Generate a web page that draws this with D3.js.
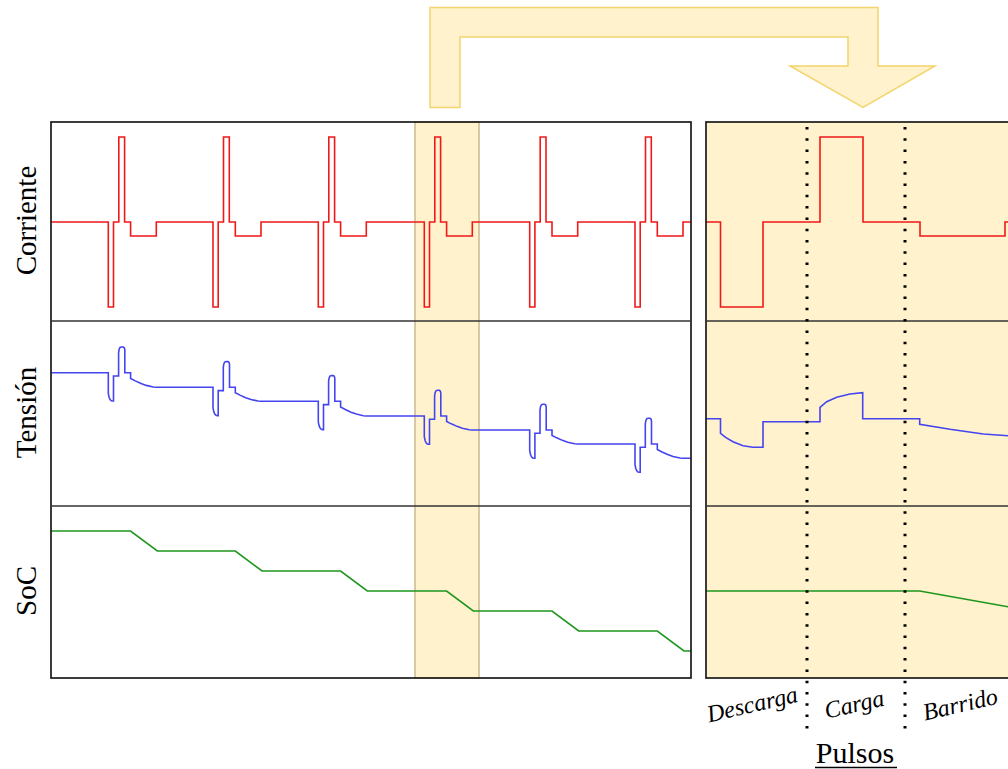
<!DOCTYPE html>
<html>
 <head>
   <meta charset="utf-8" />
   <title>Pulsos: Corriente, Tensión, SoC</title>
   <script src="https://cdn.jsdelivr.net/npm/d3@7"></script>
   <style>
     body { margin: 0; background: #fff; }
   </style>
 </head>

 <body>
   <script>
     var width = 1008, height = 769;
     var serif = "'Liberation Serif', 'Times New Roman', serif";

     // ---- data (time in panel units, values in arbitrary units) ----
     var cycleStarts = [57.3, 162, 267.3, 373.3, 478.7, 584];
     var leftEnd = 640;

     // current steps inside one cycle: [dt, value]
     var currentCycle = [[0, -1], [5.2, 0], [10.5, 1], [16.3, 0], [22.3, -0.165], [48, 0]];

     // tension: rest level before each cycle (and after the last one)
     var voltLevels = [133.3, 118.7, 104.7, 90, 76, 62, 47.7];
     // pulse shape relative to the rest level: [dt, dv]
     var voltPulse = [[0, 0], [0, -20.7], [0.8, -24.5], [1.8, -26.8], [3, -28], [4.3, -28.3], [5.2, -28.3],
                      [5.2, -3.3], [10.3, -3.3], [10.3, 20], [10.8, 23.3], [11.7, 25.2], [13, 25.7],
                      [15, 25.7], [16, 25], [16.5, 23], [16.5, 0], [22.3, 0]];
     // sweep: fraction of the way from this level to the next one
     var voltSweep = [[22.3, 0.39], [27, 0.56], [32.7, 0.74], [38, 0.87], [45, 0.98], [48, 1]];

     // SoC levels and sweep window inside each cycle
     var socLevels = [147, 127, 107, 87, 67, 47, 27];
     var socSweep = [22.3, 49];

     // zoomed cycle (right panel)
     var rightEnd = 320;
     var rightCurrent = [[0, 0], [14.5, -1], [57, 0], [114, 1], [157, 0], [214, -0.165], [299, 0]];
     var rightVolt = [[0, 87.3], [14.5, 87.3], [14.5, 72.7], [20, 68.3], [27, 64.3], [37, 60.2], [47, 58.8],
                      [57, 58.7], [57, 84.3], [114, 84.3], [114, 98.7], [120.7, 104.3], [130.7, 108.7],
                      [144, 112], [156.7, 113.3], [156.7, 87.3], [213.7, 87.3], [213.7, 81.7],
                      [244, 76.7], [277.3, 72], [302, 70.3], [320, 69.5]];
     var rightSoc = [[0, 87], [213.7, 87], [302, 71.3], [320, 68]];
     var phaseBounds = [101, 199];
     var phaseLabels = [{name: "Descarga", t: 48}, {name: "Carga", t: 150}, {name: "Barrido", t: 256}];

     var panelNames = ["Corriente", "Tensión", "SoC"];
     var highlight = [364, 428];

     // ---- layout ----
     var topY = 122, r1 = 321, r2 = 506, bottomY = 678;
     var leftX0 = 51, leftX1 = 691, rightX0 = 706;

     var xL = d3.scaleLinear().domain([0, leftEnd]).range([leftX0, leftX1]);
     var xR = d3.scaleLinear().domain([0, rightEnd]).range([rightX0, rightX0 + 320]);
     var yI = d3.scaleLinear().domain([-1, 1]).range([307, 137]);
     var yV = d3.scaleLinear().domain([0, r2 - r1]).range([r2, r1]);
     var yS = d3.scaleLinear().domain([0, bottomY - r2]).range([bottomY, r2]);

     // build series
     function stepPoints(steps, offset, prev, pts) {
       steps.forEach(function(s) {
         pts.push([offset + s[0], prev]);
         pts.push([offset + s[0], s[1]]);
         prev = s[1];
       });
       return prev;
     }

     var currentPts = [[0, 0]];
     cycleStarts.forEach(function(t0) { stepPoints(currentCycle, t0, 0, currentPts); });
     currentPts.push([leftEnd, 0]);

     var voltPts = [[0, voltLevels[0]]];
     cycleStarts.forEach(function(t0, i) {
       var L = voltLevels[i], N = voltLevels[i + 1];
       voltPulse.forEach(function(p) { voltPts.push([t0 + p[0], L + p[1]]); });
       voltSweep.forEach(function(p) { voltPts.push([t0 + p[0], L + (N - L) * p[1]]); });
     });
     voltPts.push([leftEnd, voltLevels[voltLevels.length - 1]]);

     var socPts = [[0, socLevels[0]]];
     cycleStarts.forEach(function(t0, i) {
       socPts.push([t0 + socSweep[0], socLevels[i]]);
       socPts.push([t0 + socSweep[1], socLevels[i + 1]]);
     });
     socPts.push([leftEnd, socLevels[socLevels.length - 1]]);

     var rightCurrentPts = [[0, 0]];
     stepPoints(rightCurrent, 0, 0, rightCurrentPts);
     rightCurrentPts.push([rightEnd, 0]);

     var svg = d3.select("body")
                 .append("svg")
                 .attr("width", width)
                 .attr("height", height)
                 .style("display", "block");

     var bandFill = "#fff2cc";

     // arrow from the highlighted cycle to the zoomed panel
     var arrow = [[430, 107.5], [430, 7.5], [878, 7.5], [878, 66], [935, 66], [863, 107.5],
                  [790, 66], [848, 66], [848, 37], [460, 37], [460, 107.5]];
     svg.append("polygon")
        .attr("points", arrow.map(function(p) { return p.join(","); }).join(" "))
        .attr("fill", bandFill)
        .attr("stroke", "#f3d46e")
        .attr("stroke-width", 1.5);

     // right panel background
     svg.append("rect")
        .attr("x", rightX0).attr("y", topY)
        .attr("width", 330).attr("height", bottomY - topY)
        .attr("fill", bandFill);

     // highlight band on left panel
     svg.append("rect")
        .attr("x", xL(highlight[0])).attr("y", topY)
        .attr("width", xL(highlight[1]) - xL(highlight[0]))
        .attr("height", bottomY - topY)
        .attr("fill", bandFill)
        .attr("stroke", "#cbb98c")
        .attr("stroke-width", 1.5);

     var line = function(x, y) {
       return d3.line().x(function(d) { return x(d[0]); }).y(function(d) { return y(d[1]); });
     };

     function drawSeries(pts, x, y, color) {
       svg.append("path")
          .datum(pts)
          .attr("d", line(x, y))
          .attr("fill", "none")
          .attr("stroke", color)
          .attr("stroke-width", 1.6);
     }

     var red = "#f01818", blue = "#4444f0", green = "#1e961e";
     drawSeries(currentPts, xL, yI, red);
     drawSeries(voltPts, xL, yV, blue);
     drawSeries(socPts, xL, yS, green);
     drawSeries(rightCurrentPts, xR, yI, red);
     drawSeries(rightVolt, xR, yV, blue);
     drawSeries(rightSoc, xR, yS, green);

     // frames
     var frameColor = "#1a1a1a";
     svg.append("rect")
        .attr("x", leftX0).attr("y", topY)
        .attr("width", leftX1 - leftX0).attr("height", bottomY - topY)
        .attr("fill", "none").attr("stroke", frameColor).attr("stroke-width", 1.7);
     svg.append("rect")
        .attr("x", rightX0).attr("y", topY)
        .attr("width", 330).attr("height", bottomY - topY)
        .attr("fill", "none").attr("stroke", frameColor).attr("stroke-width", 1.7);

     [r1, r2].forEach(function(y) {
       svg.append("line").attr("x1", leftX0).attr("x2", leftX1).attr("y1", y).attr("y2", y)
          .attr("stroke", "#333").attr("stroke-width", 1.6);
       svg.append("line").attr("x1", rightX0).attr("x2", width).attr("y1", y).attr("y2", y)
          .attr("stroke", "#333").attr("stroke-width", 1.6);
     });

     // phase separators
     phaseBounds.forEach(function(t) {
       svg.append("line")
          .attr("x1", xR(t)).attr("x2", xR(t))
          .attr("y1", 127).attr("y2", 736)
          .attr("stroke", "#000")
          .attr("stroke-width", 3)
          .attr("stroke-dasharray", "2.5 8.8");
     });

     // panel titles
     var centers = [(topY + r1) / 2, (r1 + r2) / 2, (r2 + bottomY) / 2];
     panelNames.forEach(function(n, i) {
       svg.append("text")
          .attr("transform", "translate(35.5," + (centers[i] - 1) + ") rotate(-90)")
          .attr("text-anchor", "middle")
          .attr("font-family", serif)
          .attr("font-size", 29)
          .text(n);
     });

     phaseLabels.forEach(function(p) {
       svg.append("text")
          .attr("transform", "translate(" + xR(p.t) + ",712) rotate(-13)")
          .attr("text-anchor", "middle")
          .attr("font-family", serif)
          .attr("font-size", 24)
          .attr("font-style", "italic")
          .text(p.name);
     });

     svg.append("text")
        .attr("x", xR(149)).attr("y", 763)
        .attr("text-anchor", "middle")
        .attr("font-family", serif)
        .attr("font-size", 30)
        .text("Pulsos");
     svg.append("line")
        .attr("x1", 815).attr("x2", 897).attr("y1", 767.5).attr("y2", 767.5)
        .attr("stroke", "#000").attr("stroke-width", 1.5);
   </script>
 </body>
</html>
